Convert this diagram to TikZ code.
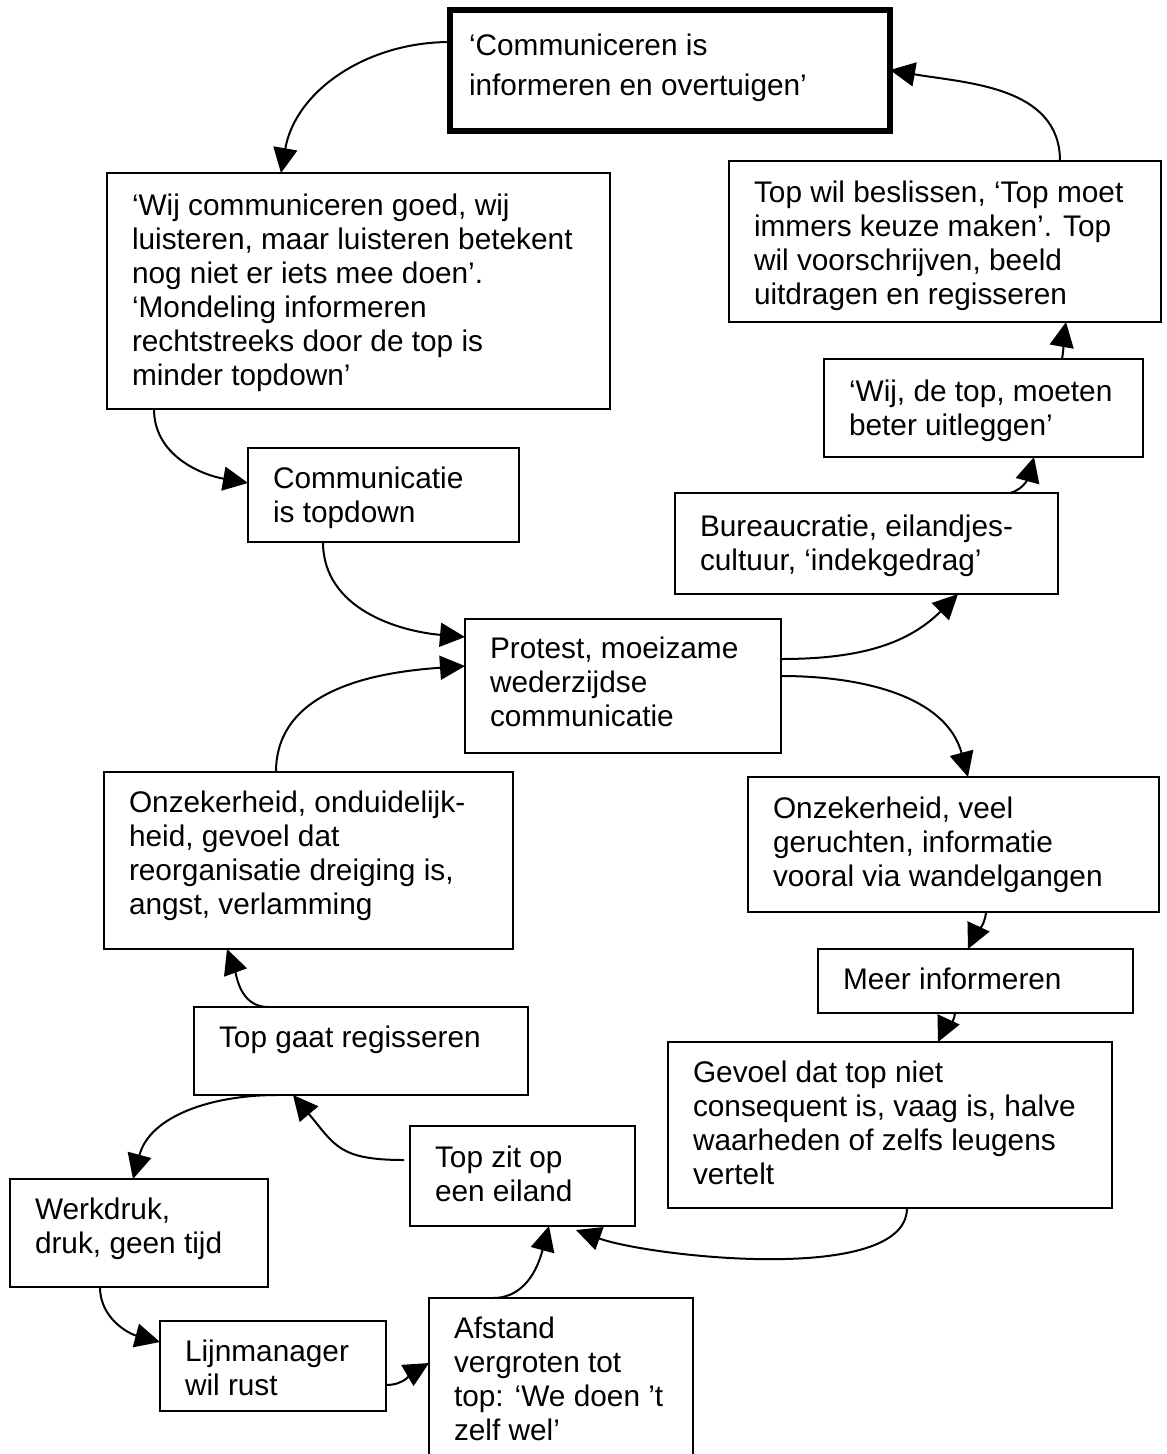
\documentclass[tikz,border=0pt]{standalone}
\usepackage{fontspec}
\setmainfont{Liberation Sans}
\usetikzlibrary{arrows.meta,calc}

% box body: width, height, space above the first line, lines
\newcommand\cellbody[4]{\parbox[t][#2pt][t]{#1pt}{\vspace*{#3pt}\begin{tabular}[t]{@{}l@{}}#4\end{tabular}}}

\begin{document}
\begin{tikzpicture}[x=1pt,y=-1pt,
  box/.style={draw, line width=2.2pt, anchor=north west, inner xsep=25pt,
    inner ysep=0pt, outer sep=0pt, font=\fontsize{29.8}{34}\selectfont},
  keybox/.style={box, line width=6pt, inner xsep=19pt,
    font=\fontsize{29.8}{40}\selectfont},
  conn/.style={line width=2pt, -{Triangle[length=25pt,width=24pt]}}]

\fill[white] (0,0) rectangle (1167,1454);
\useasboundingbox (0,0) rectangle (1167,1454);
\clip (0,0) rectangle (1167,1454);

% statements
\node[keybox] (top) at (450,10)
  {\cellbody{402}{121}{17}{‘Communiceren is\\informeren en overtuigen’}};
\node[box] (wij) at (107,173)
  {\cellbody{453}{236}{19}{‘Wij communiceren goed, wij\\luisteren, maar luisteren betekent\\nog niet er iets mee doen’.\\‘Mondeling informeren\\rechtstreeks door de top is\\minder topdown’}};
\node[box] (comm) at (248,448)
  {\cellbody{221}{94}{17}{Communicatie\\is topdown}};
\node[box] (topwil) at (729,161)
  {\cellbody{382}{161}{18}{Top wil beslissen, ‘Top moet\\immers keuze maken’. Top\\wil voorschrijven, beeld\\uitdragen en regisseren}};
\node[box] (wijtop) at (824,359)
  {\cellbody{269}{98}{19}{‘Wij, de top, moeten\\beter uitleggen’}};
\node[box] (bureau) at (675,493)
  {\cellbody{333}{101}{20}{Bureaucratie, eilandjes-\\cultuur, ‘indekgedrag’}};
\node[box] (protest) at (465,619)
  {\cellbody{266}{134}{16}{Protest, moeizame\\wederzijdse\\communicatie}};
\node[box] (onzL) at (104,772)
  {\cellbody{359}{177}{17}{Onzekerheid, onduidelijk-\\heid, gevoel dat\\reorganisatie dreiging is,\\angst, verlamming}};
\node[box] (onzR) at (748,777)
  {\cellbody{361}{135}{18}{Onzekerheid, veel\\geruchten, informatie\\vooral via wandelgangen}};
\node[box] (meer) at (818,949)
  {\cellbody{265}{64}{17}{Meer informeren}};
\node[box] (gevoel) at (668,1042)
  {\cellbody{394}{166}{17}{Gevoel dat top niet\\consequent is, vaag is, halve\\waarheden of zelfs leugens\\vertelt}};
\node[box] (topgaat) at (194,1007)
  {\cellbody{284}{88}{17}{Top gaat regisseren}};
\node[box] (topzit) at (410,1126)
  {\cellbody{175}{100}{18}{Top zit op\\een eiland}};
\node[box] (werk) at (10,1179)
  {\cellbody{208}{108}{17}{Werkdruk,\\druk, geen tijd}};
\node[box] (lijn) at (160,1321)
  {\cellbody{176}{90}{17}{Lijnmanager\\wil rust}};
\node[box] (afstand) at (429,1298)
  {\cellbody{214}{172}{17}{Afstand\\vergroten tot\\top: ‘We doen ’t\\zelf wel’}};

% connectors
\draw[conn] ($(top.north west)+(0,32)$) to[out=180,in=80] ($(wij.north west)+(174,0)$);
\draw[conn] ($(wij.south west)+(47,0)$) to[out=-90,in=170] ($(comm.north west)+(0,35)$);
\draw[conn] ($(comm.south west)+(75,0)$) to[out=-90,in=175] ($(protest.north west)+(0,18)$);
\draw[conn] ($(onzL.north west)+(172,0)$) to[out=90,in=-176] ($(protest.north west)+(0,47)$);
\draw[conn] ($(protest.north east)+(0,40)$) to[out=0,in=-135] ($(bureau.south west)+(283,0)$);
\draw[conn] ($(protest.north east)+(0,57)$) to[out=0,in=105] ($(onzR.north west)+(220,0)$);
\draw[conn] ($(bureau.north west)+(335,0)$) to[out=15,in=-105] ($(wijtop.south west)+(210,0)$);
\draw[conn] ($(wijtop.north west)+(238,0)$) to[out=80,in=-100] ($(topwil.south west)+(337,0)$);
\draw[conn] ($(topwil.north west)+(331,0)$) to[out=90,in=-10] ($(top.north east)+(0,60)$);
\draw[conn] ($(onzR.south west)+(238,0)$) to[out=-95,in=65] ($(meer.north west)+(150,0)$);
\draw[conn] ($(meer.south west)+(137,0)$) to[out=-95,in=65] ($(gevoel.north west)+(270,0)$);
\draw[conn] ($(gevoel.south west)+(239,0)$) to[out=-90,in=-20,looseness=0.6] ($(topzit.south west)+(166,4)$);
\draw[conn] ($(afstand.north west)+(64,0)$) to[out=0,in=-105] ($(topzit.south west)+(139,0)$);
\draw[conn] ($(topzit.north west)+(-6,34)$) to[out=180,in=-50,looseness=1.3] ($(topgaat.south west)+(99,0)$);
\draw[conn] ($(topgaat.south west)+(83,0)$) to[out=180,in=75] ($(werk.north west)+(123,0)$);
\draw[conn] ($(topgaat.north west)+(74,0)$) to[out=180,in=-70] ($(onzL.south west)+(123,0)$);
\draw[conn] ($(werk.south west)+(90,0)$) to[out=-90,in=165] ($(lijn.north west)+(0,21)$);
\draw[conn] ($(lijn.north east)+(0,64)$) to[out=0,in=-150] ($(afstand.north west)+(0,65)$);
\end{tikzpicture}
\end{document}
